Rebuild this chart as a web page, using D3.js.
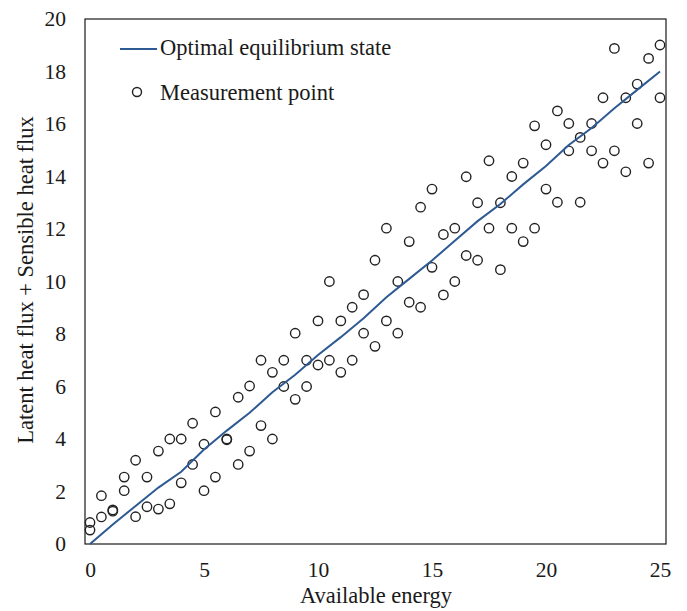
<!DOCTYPE html>
<html>
<head>
<meta charset="utf-8">
<script src="https://cdn.jsdelivr.net/npm/d3@7"></script>
<style>
  body { margin: 0; background: #fff; }
  svg { display: block; }
  text { font-family: "Liberation Serif", "Times New Roman", serif; fill: #1a1a1a; }
</style>
</head>
<body>
<svg id="chart" width="687" height="611"></svg>
<script>
// ---- data ----
const xTicks = [0, 5, 10, 15, 20, 25];
const yTicks = [0, 2, 4, 6, 8, 10, 12, 14, 16, 18, 20];

// optimal equilibrium line (x, y)
const lineX = [0,1,2,3,4,5,6,7,8,9,10,11,12,13,14,15,16,17,18,19,20,21,22,23,24,25];
const lineY = [0,0.74,1.45,2.15,2.75,3.6,4.32,5.0,5.78,6.45,7.2,7.88,8.6,9.4,10.1,10.8,11.55,12.3,12.95,13.7,14.4,15.2,15.85,16.6,17.3,18.0];

// measurement points: two per x position
const ptX = [0,0.5,1,1.5,2,2.5,3,3.5,4,4.5,5,5.5,6,6.5,7,7.5,8,8.5,9,9.5,10,10.5,11,11.5,12,12.5,13,13.5,14,14.5,15,15.5,16,16.5,17,17.5,18,18.5,19,19.5,20,20.5,21,21.5,22,22.5,23,23.5,24,24.5,25];
const ptUpper = [0.82,1.84,1.3,2.55,3.19,2.55,3.54,4.0,4.0,4.6,3.8,5.03,4.0,5.59,6.02,7.0,6.54,7.0,8.03,7.0,8.5,10.0,8.5,9.02,9.5,10.81,12.03,10.0,11.52,12.83,13.52,11.79,12.03,13.99,13.0,14.6,13.0,14.0,14.51,15.93,15.21,16.5,16.02,15.49,16.02,17.0,18.88,17.0,17.52,18.5,19.01];
const ptLower = [0.53,1.03,1.25,2.03,1.04,1.42,1.33,1.53,2.33,3.03,2.03,2.55,3.97,3.03,3.54,4.51,4.0,6.0,5.51,6.0,6.82,7.0,6.54,7.0,8.03,7.53,8.5,8.03,9.21,9.02,10.54,9.49,10.0,10.99,10.81,12.03,10.45,12.03,11.52,12.03,13.52,13.02,14.98,13.02,14.98,14.51,14.98,14.18,16.02,14.51,17.0];

const legendLabels = ["Optimal equilibrium state", "Measurement point"];
const xTitle = "Available energy";
const yTitle = "Latent heat flux + Sensible heat flux";

// ---- layout ----
const FONT = '"Liberation Serif", "Times New Roman", serif';
const svg = d3.select("#chart");
const frame = { left: 85, right: 666, top: 19, bottom: 544 };
const x = d3.scaleLinear().domain([0, 25]).range([90, 660]);
const y = d3.scaleLinear().domain([0, 20]).range([544, 19]);
const lineColor = "#2e5a93";

// frame
svg.append("rect")
  .attr("x", frame.left).attr("y", frame.top)
  .attr("width", frame.right - frame.left).attr("height", frame.bottom - frame.top)
  .attr("fill", "none").attr("stroke", "#1a1a1a").attr("stroke-width", 1.2);

// axes (labels only, no tick marks)
const xAxis = d3.axisBottom(x).tickValues(xTicks).tickSize(0).tickPadding(18).tickFormat(d3.format("d"));
svg.append("g").attr("transform", `translate(0,${frame.bottom})`).call(xAxis)
  .attr("font-family", FONT).attr("font-size", 21.5)
  .call(g => g.select(".domain").remove())
  .selectAll("text").attr("fill", "#1a1a1a");

const yAxis = d3.axisLeft(y).tickValues(yTicks).tickSize(0).tickPadding(19).tickFormat(d3.format("d"));
svg.append("g").attr("transform", `translate(${frame.left},0)`).call(yAxis)
  .attr("font-family", FONT).attr("font-size", 21.5)
  .call(g => g.select(".domain").remove())
  .selectAll("text").attr("fill", "#1a1a1a");

// titles
svg.append("text").attr("x", 376).attr("y", 603).attr("text-anchor", "middle")
  .attr("font-family", FONT).attr("font-size", 22.5).text(xTitle);
svg.append("text").attr("transform", "translate(33,280) rotate(-90)").attr("text-anchor", "middle")
  .attr("font-family", FONT).attr("font-size", 22.5).text(yTitle);

// points
const pts = [];
ptX.forEach((v, i) => { pts.push([v, ptUpper[i]]); pts.push([v, ptLower[i]]); });
svg.append("g").selectAll("circle").data(pts).join("circle")
  .attr("cx", d => x(d[0])).attr("cy", d => y(d[1])).attr("r", 4.7)
  .attr("fill", "none").attr("stroke", "#222").attr("stroke-width", 1.4);

// line
const lineData = lineX.map((v, i) => [v, lineY[i]]);
svg.append("path").datum(lineData)
  .attr("d", d3.line().x(d => x(d[0])).y(d => y(d[1])))
  .attr("fill", "none").attr("stroke", lineColor).attr("stroke-width", 2);

// legend
const lg = svg.append("g");
lg.append("line").attr("x1", 120).attr("x2", 157).attr("y1", 49).attr("y2", 49)
  .attr("stroke", lineColor).attr("stroke-width", 2.2);
lg.append("text").attr("x", 160).attr("y", 55).attr("font-family", FONT).attr("font-size", 22.5).text(legendLabels[0]);
lg.append("circle").attr("cx", 137).attr("cy", 92).attr("r", 4.5)
  .attr("fill", "none").attr("stroke", "#222").attr("stroke-width", 1.4);
lg.append("text").attr("x", 160).attr("y", 100).attr("font-family", FONT).attr("font-size", 22.5).text(legendLabels[1]);
</script>
</body>
</html>
